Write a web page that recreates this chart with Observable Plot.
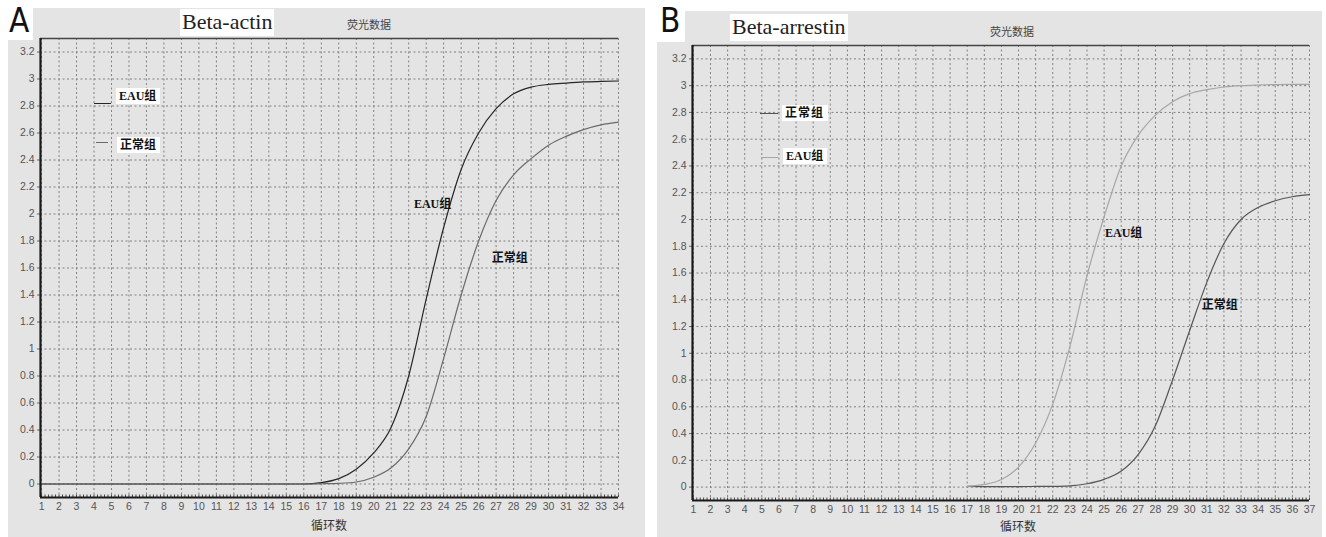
<!DOCTYPE html>
<html><head><meta charset="utf-8">
<script src="https://cdn.jsdelivr.net/npm/d3@7"></script>
<script src="https://cdn.jsdelivr.net/npm/@observablehq/plot@0.6"></script>
<style>
body{margin:0;background:#fff;}
#root{position:relative;width:1326px;height:537px;overflow:hidden;background:#fff;font-family:"Liberation Sans",Arial,sans-serif;}
.panel{position:absolute;background:#e4e4e4;}
.abs{position:absolute;white-space:nowrap;line-height:1;}
.letter{font-family:"DejaVu Sans Condensed","DejaVu Sans",sans-serif;font-size:33px;color:#111;background:#fff;}
.gene{font-family:"Liberation Serif","Times New Roman",serif;font-size:22px;color:#222;background:#fff;padding:2px 2px 3px 2px;}
.cap{font-family:"Noto Sans CJK SC",sans-serif;font-size:11px;color:#444;}
.xl{font-family:"Noto Sans CJK SC",sans-serif;font-size:12px;color:#333;}
.leg{font-family:"Liberation Serif","Noto Sans CJK SC",serif;font-weight:bold;font-size:12px;color:#111;background:#fff;padding:2px 4px 2px 3px;}
.sw{position:absolute;height:0;border-top:1.3px solid #333;}
</style></head>
<body><div id="root"></div>
<script>
// ---- data ----
const cyclesA = [1,2,3,4,5,6,7,8,9,10,11,12,13,14,15,16,17,18,19,20,21,22,23,24,25,26,27,28,29,30,31,32,33,34];
const seriesA = ["EAU组", "正常组"];
const eauA    = [0,0,0,0,0,0,0,0,0,0,0,0,0,0,0,0,0.01,0.04,0.11,0.23,0.42,0.8,1.37,1.9,2.33,2.6,2.78,2.89,2.94,2.96,2.97,2.978,2.982,2.985];
const normalA = [0,0,0,0,0,0,0,0,0,0,0,0,0,0,0,0,0.002,0.005,0.015,0.05,0.12,0.26,0.5,0.93,1.4,1.8,2.1,2.29,2.41,2.51,2.575,2.625,2.66,2.68];

const ticksXB  = [1,2,3,4,5,6,7,8,9,10,11,12,13,14,15,16,17,18,19,20,21,22,23,24,25,26,27,28,29,30,31,32,33,34,35,36,37];
const cyclesB  = [17,18,19,20,21,22,23,24,25,26,27,28,29,30,31,32,33,34,35,36,37];
const seriesB  = ["正常组", "EAU组"];
const normalB  = [0.005,0.004,0.004,0.004,0.005,0.006,0.01,0.025,0.058,0.12,0.245,0.46,0.8,1.17,1.53,1.82,2.0,2.09,2.14,2.17,2.185];
const eauB     = [0.005,0.02,0.057,0.15,0.33,0.62,1.05,1.58,2.02,2.4,2.63,2.78,2.88,2.94,2.97,2.99,3.0,3.005,3.008,3.01,3.01];

const yTicks = [0,0.2,0.4,0.6,0.8,1,1.2,1.4,1.6,1.8,2,2.2,2.4,2.6,2.8,3,3.2];
const yDomain = [-0.1, 3.3];

const labelsA = [{text:"EAU组", x:22.3, y:2.07}, {text:"正常组", x:26.75, y:1.67}];
const labelsB = [{text:"EAU组", x:25.05, y:1.9}, {text:"正常组", x:30.7, y:1.36}];

// ---- helpers ----
const root = document.getElementById("root");
function el(cls, css, html, parent){ const d=document.createElement("div"); d.className=cls; d.style.cssText=css; if(html!=null) d.innerHTML=html; (parent||root).appendChild(d); return d; }
const fmtY = d => String(+(+d).toFixed(1));

function panel(o){
  const p = el("panel", `left:${o.left}px;top:${o.top}px;width:${o.w}px;height:${o.h}px;`);
  const rows = [];
  o.lines.forEach(s => s.cycles.forEach((c,i)=>rows.push({c, v:s.values[i], name:s.name})));
  const minor = d3.range(1, o.xDomain[1]+0.001, 0.2);
  const chart = Plot.plot({
    width:o.w, height:o.h,
    marginLeft:o.ml, marginTop:o.mt, marginRight:o.mr, marginBottom:o.mb,
    style:{background:"transparent", fontFamily:"Liberation Sans, Arial, sans-serif", fontSize:"10.5px", color:"#555"},
    x:{domain:o.xDomain},
    y:{domain:yDomain},
    marks:[
      Plot.gridX(o.xTicks, {stroke:"#808080", strokeOpacity:1, strokeDasharray:"2,2.5", strokeWidth:1}),
      Plot.gridY(yTicks, {stroke:"#808080", strokeOpacity:1, strokeDasharray:"2,2.5", strokeWidth:1}),
      Plot.axisX(o.xTicks, {tickSize:0, tickPadding:5, label:null, fill:"#555", tickFormat:d=>String(d)}),
      Plot.axisX(minor, {tickSize:-2.5, tickFormat:()=>"", label:null, stroke:"#444"}),
      Plot.axisY(yTicks, {tickSize:3, tickPadding:3, label:null, fill:"#555", stroke:"#666", tickFormat:fmtY}),
      Plot.ruleY([yDomain[1]], {stroke:"#444", strokeWidth:1.6}),
      Plot.line(rows, {x:"c", y:"v", z:"name", stroke:d=>o.colors[d.name], strokeWidth:1.2, curve:"monotone-x"}),
      Plot.text(o.labels, {x:"x", y:"y", text:"text", textAnchor:"start", fontSize:12, fontWeight:"bold", fill:"#111", fontFamily:"Liberation Serif, Noto Sans CJK SC, serif"}),
      Plot.ruleX([o.xDomain[0]], {stroke:"#1a1a1a", strokeWidth:2.2}),
      Plot.ruleY([yDomain[0]], {stroke:"#1a1a1a", strokeWidth:2.2})
    ]
  });
  chart.style.position="absolute"; chart.style.left="0"; chart.style.top="0";
  p.appendChild(chart);
  return p;
}

// ---- Panel A ----
panel({left:8, top:8, w:637, h:529, ml:32, mt:30, mr:27, mb:40,
  xDomain:[0.94,34], xTicks:cyclesA,
  lines:[{name:seriesA[0], cycles:cyclesA, values:eauA},{name:seriesA[1], cycles:cyclesA, values:normalA}],
  colors:{"EAU组":"#262626","正常组":"#6a6a6a"}, labels:labelsA});
el("abs letter","left:0;top:0;width:33px;height:40px;padding-left:9px;padding-top:4px;box-sizing:border-box;","A");
el("abs gene","left:180px;top:9px;","Beta-actin");
el("abs cap","left:347px;top:19px;","荧光数据");
el("abs xl","left:311px;top:519px;","循环数");
el("sw","left:94px;top:103px;width:17px;border-top-color:#262626;");
el("abs leg","left:116px;top:88px;",seriesA[0]);
el("sw","left:96px;top:142px;width:12px;border-top-color:#6a6a6a;");
el("abs leg","left:117px;top:137px;",seriesA[1]);

// ---- Panel B ----
panel({left:657, top:11, w:665, h:526, ml:35, mt:34, mr:13, mb:37,
  xDomain:[0.95,37], xTicks:ticksXB,
  lines:[{name:seriesB[0], cycles:cyclesB, values:normalB},{name:seriesB[1], cycles:cyclesB, values:eauB}],
  colors:{"正常组":"#555555","EAU组":"#a6a6a6"}, labels:labelsB});
el("abs letter","left:655px;top:0;width:30px;height:42px;padding-left:5px;padding-top:4px;box-sizing:border-box;","B");
el("abs gene","left:730px;top:14px;","Beta-arrestin");
el("abs cap","left:990px;top:26px;","荧光数据");
el("abs xl","left:1000px;top:520px;","循环数");
el("sw","left:760px;top:113px;width:18px;border-top-color:#555;");
el("abs leg","left:782px;top:105px;letter-spacing:1px;",seriesB[0]);
el("sw","left:761px;top:157px;width:17px;border-top-color:#a6a6a6;");
el("abs leg","left:783px;top:148px;",seriesB[1]);
</script></body></html>
